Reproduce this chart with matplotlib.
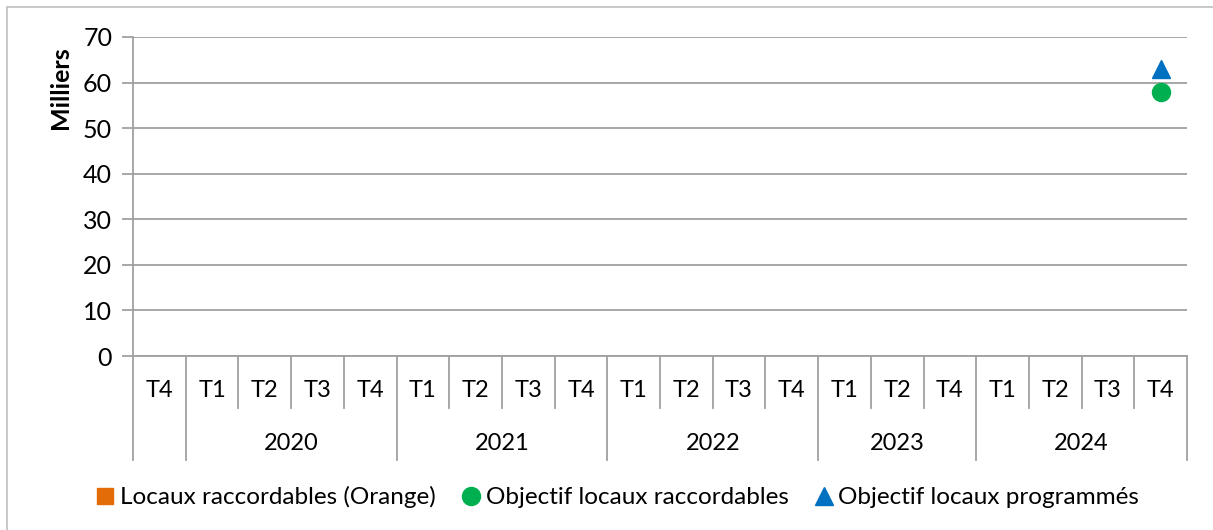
import numpy as np
import matplotlib.pyplot as plt
from matplotlib.patches import Rectangle
import matplotlib.transforms as mtransforms

plt.rcParams['font.family'] = ['Lato', 'DejaVu Sans']

quarters = ["T4", "T1", "T2", "T3", "T4", "T1", "T2", "T3", "T4",
            "T1", "T2", "T3", "T4", "T1", "T2", "T4", "T1", "T2", "T3", "T4"]
years = ["", "2020", "2021", "2022", "2023", "2024"]
year_sizes = [1, 4, 4, 4, 3, 4]

nan = np.nan
raccordables = [nan] * 20
objectif_racc = [nan] * 19 + [58]
objectif_prog = [nan] * 19 + [63]

c_orange = "#E36C09"
c_green = "#00B050"
c_blue = "#0070C0"
grey = "#A0A0A0"

fig = plt.figure(figsize=(12.13, 5.30), dpi=100)
ax = fig.add_axes([133/1213, 1 - 356/530, (1187-133)/1213, (356-37)/530])

x = np.arange(len(quarters))
ax.bar(x, raccordables, color=c_orange, width=0.6)
ax.plot(x, objectif_racc, 'o', color=c_green, markersize=13)
ax.plot(x, objectif_prog, '^', color=c_blue, markersize=13)

ax.set_xlim(-0.5, len(quarters) - 0.5)
ax.set_ylim(0, 70)
ax.set_yticks(range(0, 71, 10))
ax.yaxis.grid(True, color=grey, linewidth=1.3)
ax.set_axisbelow(True)
for s in ["top", "right"]:
    ax.spines[s].set_visible(False)
ax.spines["left"].set_color(grey)
ax.spines["bottom"].set_color(grey)
ax.spines["left"].set_linewidth(1.3)
ax.spines["bottom"].set_linewidth(1.3)
ax.tick_params(axis="y", colors=grey, length=8, width=1.3, labelcolor="black", labelsize=18, pad=7)
ax.set_xticks([])
ax.set_ylabel("Milliers", fontsize=18, fontweight="bold")
ax.yaxis.set_label_coords(-0.058, 0.84)

# hierarchical category axis
trans = mtransforms.blended_transform_factory(ax.transData, ax.transAxes)
row1 = -52/319
row2 = -104/319
for i, q in enumerate(quarters):
    ax.text(i, -0.107, q, transform=trans, ha="center", va="center", fontsize=17)

bounds = np.cumsum([0] + year_sizes) - 0.5
for i in range(len(quarters) + 1):
    b = i - 0.5
    ybot = row2 if b in bounds else row1
    ax.plot([b, b], [0, ybot], transform=trans, color=grey, linewidth=1.3, clip_on=False)

start = 0
for y, n in zip(years, year_sizes):
    ax.text(start + (n - 1) / 2, -0.273, y, transform=trans, ha="center", va="center", fontsize=17)
    start += n

handles = [
    plt.Line2D([], [], marker="s", linestyle="none", color=c_orange, markersize=11),
    plt.Line2D([], [], marker="o", linestyle="none", color=c_green, markersize=13),
    plt.Line2D([], [], marker="^", linestyle="none", color=c_blue, markersize=13),
]
labels = ["Locaux raccordables (Orange)", "Objectif locaux raccordables", "Objectif locaux programmés"]
fig.legend(handles, labels, loc="center", bbox_to_anchor=(618/1213, 1 - 497/530), ncol=3,
           frameon=False, fontsize=17.5, handlelength=0.7, handletextpad=0.25, columnspacing=1.1)

fig.patches.append(Rectangle((7/1213, -0.1), 1.2, 1 - 7/530 + 0.1, transform=fig.transFigure,
                             fill=False, edgecolor="#BFBFBF", linewidth=1.2))

fig.savefig("out.png", dpi=100)
